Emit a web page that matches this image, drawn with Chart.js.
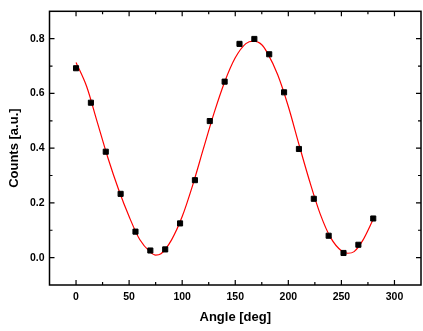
<!DOCTYPE html>
<html>
<head>
<meta charset="utf-8">
<script src="https://cdn.jsdelivr.net/npm/chart.js@4/dist/chart.umd.min.js"></script>
<style>
  html, body { margin: 0; padding: 0; background: #fff; overflow: hidden; }
  #wrap { position: absolute; left: 0; top: 0; width: 426px; height: 331px; }
</style>
</head>
<body>
<div id="wrap"><canvas id="chart" width="426" height="331"></canvas></div>
<script>
// measured points
const angles = [0, 14, 28, 42, 56, 70, 84, 98, 112, 126, 140, 154, 168, 182, 196, 210, 224, 238, 252, 266, 280];
const counts = [0.692, 0.566, 0.387, 0.233, 0.095, 0.026, 0.030, 0.125, 0.283, 0.499, 0.643, 0.781, 0.799, 0.743, 0.604, 0.397, 0.215, 0.080, 0.017, 0.047, 0.143];

// fit curve
const fitAngles = [0, 10, 20, 30, 40, 50, 60, 70, 75, 80, 90, 100, 110, 120, 130, 140, 150, 160, 167, 175, 180, 190, 200, 210, 220, 230, 240, 250, 256, 262, 270, 280];
const fitCounts = [0.713, 0.625, 0.495, 0.365, 0.250, 0.150, 0.066, 0.020, 0.009, 0.014, 0.065, 0.150, 0.266, 0.398, 0.528, 0.642, 0.730, 0.782, 0.791, 0.778, 0.750, 0.668, 0.552, 0.414, 0.280, 0.160, 0.072, 0.025, 0.016, 0.022, 0.062, 0.140];

const xTicks = [0, 50, 100, 150, 200, 250, 300];
const yTicks = [0.0, 0.2, 0.4, 0.6, 0.8];

const FONT = "'Liberation Sans', Arial, sans-serif";

// frame + inward ticks on all four sides
const framePlugin = {
  id: 'frame',
  afterDraw(chart) {
    const ctx = chart.ctx;
    const a = chart.chartArea;
    const xs = chart.scales.x, ys = chart.scales.y;
    ctx.save();
    ctx.strokeStyle = '#000';
    ctx.lineWidth = 1.5;
    ctx.strokeRect(a.left, a.top, a.right - a.left, a.bottom - a.top);
    ctx.lineWidth = 1.2;
    ctx.beginPath();
    for (let v = 0; v <= 325; v += 25) {
      const px = xs.getPixelForValue(v);
      if (px <= a.left || px >= a.right) continue;
      const len = v % 50 === 0 ? 5 : 3;
      ctx.moveTo(px, a.bottom); ctx.lineTo(px, a.bottom - len);
      ctx.moveTo(px, a.top); ctx.lineTo(px, a.top + len);
    }
    for (let i = 0; i <= 8; i++) {
      const v = i / 10;
      const py = ys.getPixelForValue(v);
      const len = i % 2 === 0 ? 5 : 3;
      ctx.moveTo(a.left, py); ctx.lineTo(a.left + len, py);
      ctx.moveTo(a.right, py); ctx.lineTo(a.right - len, py);
    }
    ctx.stroke();
    ctx.restore();
  }
};

new Chart(document.getElementById('chart'), {
  type: 'scatter',
  data: {
    datasets: [
      {
        data: angles.map((a, i) => ({ x: a, y: counts[i] })),
        pointStyle: 'rect',
        pointRadius: 3.6,
        pointBackgroundColor: '#000',
        pointBorderColor: '#000',
        pointBorderWidth: 1,
        showLine: false
      },
      {
        data: fitAngles.map((a, i) => ({ x: a, y: fitCounts[i] })),
        showLine: true,
        borderColor: '#ff0000',
        borderWidth: 1.2,
        pointRadius: 0,
        cubicInterpolationMode: 'monotone',
        fill: false
      }
    ]
  },
  options: {
    responsive: false,
    animation: false,
    layout: { padding: { top: 6, right: 1.5, left: 0, bottom: 0 } },
    plugins: { legend: { display: false }, tooltip: { enabled: false } },
    scales: {
      x: {
        type: 'linear',
        min: -25,
        max: 325,
        grid: { display: false, drawTicks: false, tickLength: 0 },
        border: { display: false },
        afterBuildTicks: s => { s.ticks = xTicks.map(v => ({ value: v })); },
        afterFit: s => { s.height = 46; },
        ticks: {
          color: '#000',
          padding: 6,
          maxRotation: 0,
          font: { family: FONT, size: 10.5, weight: 'bold' },
          callback: v => String(v)
        },
        title: {
          display: true,
          text: 'Angle [deg]',
          color: '#000',
          padding: { top: 7, bottom: 6 },
          font: { family: FONT, size: 13, weight: 'bold' }
        }
      },
      y: {
        min: -0.1,
        max: 0.9,
        grid: { display: false, drawTicks: false, tickLength: 0 },
        border: { display: false },
        afterBuildTicks: s => { s.ticks = yTicks.map(v => ({ value: v })); },
        afterFit: s => { s.width = 49.5; },
        ticks: {
          color: '#000',
          padding: 5,
          font: { family: FONT, size: 10.5, weight: 'bold' },
          callback: v => v.toFixed(1)
        },
        title: {
          display: true,
          text: 'Counts [a.u.]',
          color: '#000',
          padding: { top: 7, bottom: 7 },
          font: { family: FONT, size: 13, weight: 'bold' }
        }
      }
    }
  },
  plugins: [framePlugin]
});
</script>
</body>
</html>
